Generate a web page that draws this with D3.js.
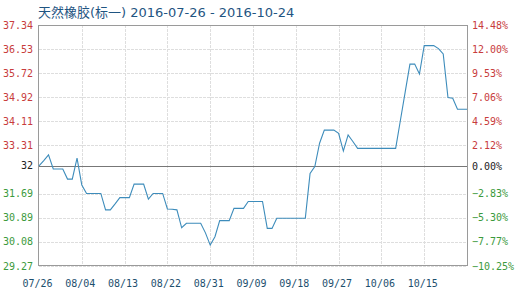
<!DOCTYPE html>
<html>
<head>
<meta charset="utf-8">
<script src="https://cdn.jsdelivr.net/npm/d3@7"></script>
<style>
    body { margin: 0; background: #fff; }
</style>
</head>
<body>
<svg id="chart"></svg>
<script>
const title = '天然橡胶(标一) 2016-07-26 - 2016-10-24'
const startDate = '2016-07-26'
const endDate = '2016-10-24'

// 每日价格 (从 07/26 开始, 共 91 天)
const prices = [
    32.62, 32.80, 32.99, 32.52, 32.52, 32.52, 32.18, 32.18, 32.88, 31.98,
    31.70, 31.70, 31.70, 31.70, 31.15, 31.15, 31.35, 31.56, 31.56, 31.56,
    32.01, 32.01, 32.01, 31.51, 31.70, 31.70, 31.70, 31.18, 31.17, 31.15,
    30.55, 30.70, 30.70, 30.70, 30.70, 30.38, 29.97, 30.25, 30.79, 30.79,
    30.79, 31.20, 31.20, 31.20, 31.43, 31.43, 31.43, 31.43, 30.53, 30.53,
    30.87, 30.87, 30.87, 30.87, 30.87, 30.87, 30.87, 32.37, 32.60, 33.38,
    33.82, 33.82, 33.82, 33.71, 33.12, 33.66, 33.44, 33.21, 33.21, 33.21,
    33.21, 33.21, 33.21, 33.21, 33.21, 33.21, 34.15, 35.09, 36.03, 36.03,
    35.70, 36.65, 36.65, 36.65, 36.55, 36.37, 34.91, 34.89, 34.52, 34.52,
    34.52
]

const basePrice = 32.62
const baseLabel = '32'
const priceTicks = [37.34, 36.53, 35.72, 34.92, 34.11, 33.31, 31.69, 30.89, 30.08, 29.27]
const percentTicks = [14.48, 12.00, 9.53, 7.06, 4.59, 2.12, 0, -2.83, -5.30, -7.77, -10.25]
const dateTicks = ['2016-07-26', '2016-08-04', '2016-08-13', '2016-08-22', '2016-08-31',
                   '2016-09-09', '2016-09-18', '2016-09-27', '2016-10-06', '2016-10-15']

const width = 518
const height = 293
const plotLeft = 39
const plotRight = 467
const plotTop = 25
const plotBottom = 266

const upColor = '#c83c3c'
const downColor = '#3c9a3c'
const gridColor = '#dedede'

const parseDate = d3.timeParse('%Y-%m-%d')
const start = parseDate(startDate)
const data = prices.map((v, i) => ({ date: d3.timeDay.offset(start, i), value: v }))

const svg = d3.select('#chart').attr('width', width).attr('height', height)

const x = d3.scaleTime()
    .domain([start, parseDate(endDate)])
    .range([plotLeft, plotRight])
const y = d3.scaleLinear()
    .domain([d3.min(priceTicks), d3.max(priceTicks)])
    .range([plotBottom, plotTop])
const yPct = d3.scaleLinear()
    .domain([d3.min(percentTicks), d3.max(percentTicks)])
    .range([plotBottom, plotTop])

// 网格线
const grid = svg.append('g')
grid.selectAll('line.h').data(priceTicks).enter()
    .append('line')
    .attr('x1', plotLeft).attr('x2', plotRight)
    .attr('y1', v => Math.round(y(v)) + 0.5)
    .attr('y2', v => Math.round(y(v)) + 0.5)
    .attr('stroke', gridColor)
    .attr('stroke-dasharray', '3,1')
grid.selectAll('line.v').data(dateTicks.slice(1)).enter()
    .append('line')
    .attr('x1', v => Math.round(x(parseDate(v))) + 0.5)
    .attr('x2', v => Math.round(x(parseDate(v))) + 0.5)
    .attr('y1', plotTop).attr('y2', plotBottom)
    .attr('stroke', gridColor)
    .attr('stroke-dasharray', '3,1')

// 边框
svg.append('rect')
    .attr('x', plotLeft - 0.5).attr('y', plotTop + 0.5)
    .attr('width', plotRight - plotLeft + 1).attr('height', plotBottom - plotTop - 1)
    .attr('fill', 'none')
    .attr('stroke', '#9a9a9a')

// 基准线
svg.append('line')
    .attr('x1', plotLeft).attr('x2', plotRight)
    .attr('y1', Math.round(y(basePrice)) + 0.5)
    .attr('y2', Math.round(y(basePrice)) + 0.5)
    .attr('stroke', '#777')

// 价格折线
const line = d3.line().x(d => x(d.date)).y(d => y(d.value))
svg.append('path')
    .datum(data)
    .attr('d', line)
    .attr('fill', 'none')
    .attr('stroke', '#3d8cbb')
    .attr('stroke-width', 1.1)

const labelFont = '"DejaVu Sans Mono", monospace'

// 左侧价格坐标
const leftLabels = priceTicks.map(v => ({ v, text: d3.format('.2f')(v) }))
leftLabels.push({ v: basePrice, text: baseLabel })
svg.append('g').selectAll('text').data(leftLabels).enter()
    .append('text')
    .text(d => d.text)
    .attr('x', 33)
    .attr('y', d => y(d.v))
    .attr('dy', '0.35em')
    .attr('text-anchor', 'end')
    .attr('font-size', 10)
    .attr('font-family', labelFont)
    .attr('fill', d => d.v > basePrice ? upColor : d.v < basePrice ? downColor : '#222')

// 右侧涨跌幅坐标
svg.append('g').selectAll('text').data(percentTicks).enter()
    .append('text')
    .text(v => d3.format('.2f')(v) + '%')
    .attr('x', 472)
    .attr('y', v => yPct(v))
    .attr('dy', '0.35em')
    .attr('font-size', 10)
    .attr('font-family', labelFont)
    .attr('fill', v => v > 0 ? upColor : v < 0 ? downColor : '#222')

// 日期坐标
svg.append('g').selectAll('text').data(dateTicks).enter()
    .append('text')
    .text(v => d3.timeFormat('%m/%d')(parseDate(v)))
    .attr('x', v => x(parseDate(v)) - 1.5)
    .attr('y', 287)
    .attr('text-anchor', 'middle')
    .attr('font-size', 10)
    .attr('font-family', labelFont)
    .attr('fill', '#1d4f6e')

// 标题
svg.append('text')
    .text(title)
    .attr('x', 38)
    .attr('y', 17)
    .attr('font-size', 13)
    .attr('font-family', '"DejaVu Sans", "Noto Sans CJK SC", sans-serif')
    .attr('fill', '#1f5582')
</script>
</body>
</html>
